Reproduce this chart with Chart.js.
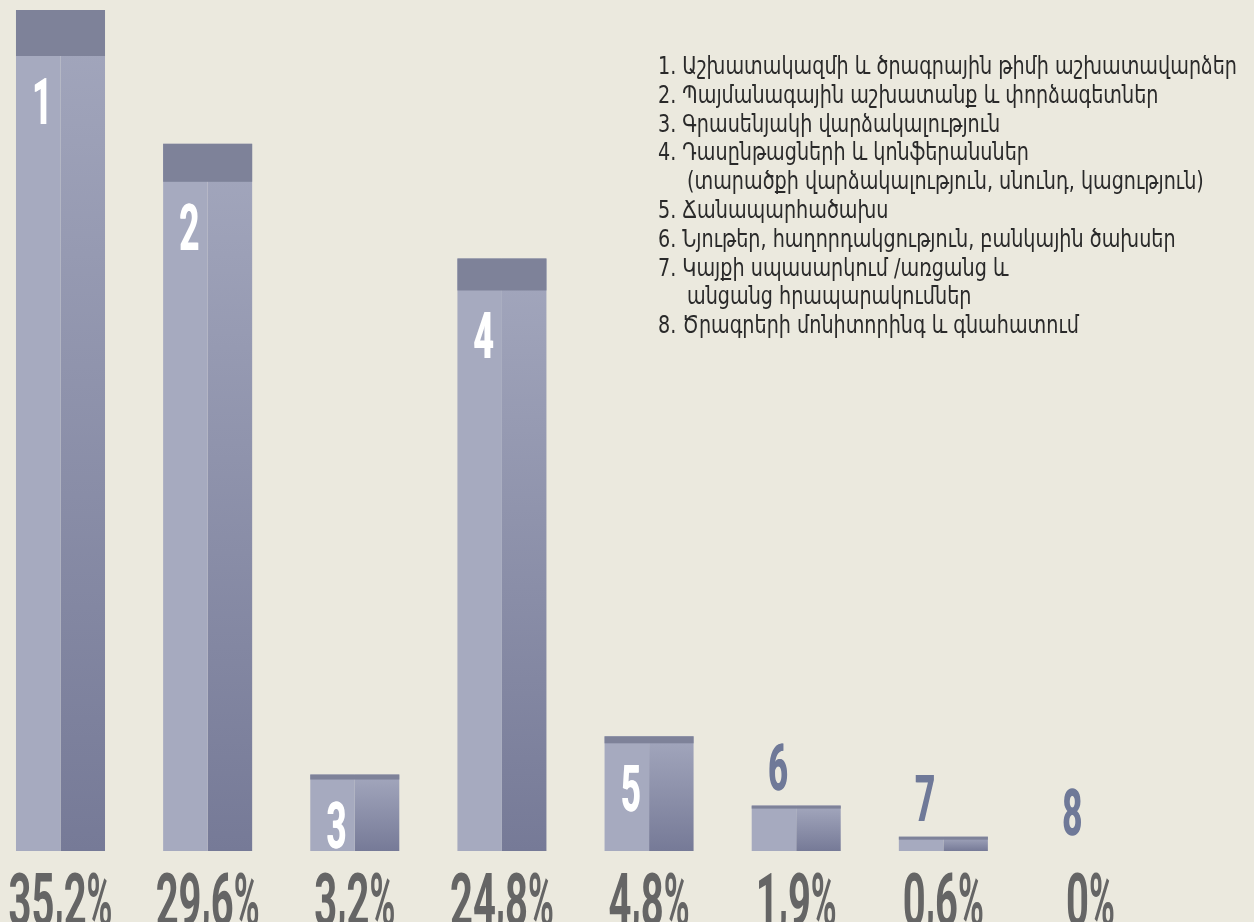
<!DOCTYPE html>
<html>
<head>
<meta charset="utf-8">
<script src="https://cdn.jsdelivr.net/npm/chart.js@4"></script>
<style>
  body { margin: 0; background: #ebe9de; }
  #wrap { position: relative; width: 1254px; height: 922px; overflow: hidden; }
  #legend {
    position: absolute; left: 658px; top: 52px;
    font-family: "DejaVu Sans Condensed", "DejaVu Sans", sans-serif;
    font-size: 24px; line-height: 28.8px; color: #2a2a2a;
    transform-origin: 0 0; white-space: nowrap;
  }
  #legend div { display: block; }
  #legend span { display: inline-block; }
</style>
</head>
<body>
<div id="wrap">
  <canvas id="chart" width="1254" height="922"></canvas>
  <div id="legend"></div>
</div>
<script>
// bar numbers (categories) and their shares, %
const categories = ["1", "2", "3", "4", "5", "6", "7", "8"];
const shares = [35.2, 29.6, 3.2, 24.8, 4.8, 1.9, 0.6, 0];
const shareLabels = ["35,2%", "29,6%", "3,2%", "24,8%", "4,8%", "1,9%", "0,6%", "0%"];

// legend, "\n" = wrapped line
const legendItems = [
  "Աշխատակազմի և ծրագրային թիմի աշխատավարձեր",
  "Պայմանագային աշխատանք և փորձագետներ",
  "Գրասենյակի վարձակալություն",
  "Դասընթացների և կոնֆերանսներ\n(տարածքի վարձակալություն, սնունդ, կացություն)",
  "Ճանապարհածախս",
  "Նյութեր, հաղորդակցություն, բանկային ծախսեր",
  "Կայքի սպասարկում /առցանց և\nանցանց հրապարակումներ",
  "Ծրագրերի մոնիտորինգ և գնահատում"
];

const lightCol = "#a6aabf";
const capCol = "#7e8299";
const gradTop = "#a3a7bd";
const gradBottom = "#767a97";
const numFont = 'Roboto, "DejaVu Sans Condensed", sans-serif';

// legend text
const legend = document.getElementById("legend");
const firstRows = [];
const contRows = [];
legendItems.forEach((item, i) => {
  item.split("\n").forEach((line, j) => {
    const row = document.createElement("div");
    const span = document.createElement("span");
    span.textContent = j === 0 ? (i + 1) + ". " + line : line;
    row.appendChild(span);
    legend.appendChild(row);
    if (j === 0) firstRows.push(span); else contRows.push(row);
  });
});
const sx = 579 / firstRows[0].getBoundingClientRect().width;
legend.style.transform = "scaleX(" + sx + ")";
contRows.forEach(r => { r.style.paddingLeft = (29 / sx) + "px"; });

function rightFill(c) {
  const ch = c.chart;
  if (!ch.chartArea || c.type !== "data") return gradBottom;
  const ys = ch.scales.y;
  const top = ys.getPixelForValue(c.raw);
  const base = ys.getPixelForValue(0);
  if (base - top < 1) return gradBottom;
  const g = ch.ctx.createLinearGradient(0, top, 0, base);
  g.addColorStop(0, gradTop);
  g.addColorStop(1, gradBottom);
  return g;
}

// condensed bold digits: each char squeezed to a narrow advance
function advanceFor(ch, size) {
  if (ch === ",") return size * 0.125;
  if (ch === "%") return size * 0.35;
  return size * 0.31;
}
function drawCondensed(ctx, text, cx, y, size, bold) {
  ctx.font = "bold " + size + "px " + numFont;
  ctx.textAlign = "left";
  ctx.textBaseline = "alphabetic";
  const chars = text.split("");
  const total = chars.reduce((a, ch) => a + advanceFor(ch, size), 0);
  let x = cx - total / 2;
  chars.forEach(ch => {
    const adv = advanceFor(ch, size);
    const s = adv / ctx.measureText(ch).width;
    const dy = ch === "," ? -6 : 0;
    for (const dx of bold) {
      ctx.save();
      ctx.translate(x + dx, y + dy);
      ctx.scale(s, 1);
      ctx.fillText(ch, 0, 0);
      ctx.restore();
    }
    x += adv;
  });
}

const decorPlugin = {
  id: "decor",
  afterDatasetsDraw(chart) {
    const ctx = chart.ctx;
    const m0 = chart.getDatasetMeta(0).data;
    const m1 = chart.getDatasetMeta(1).data;

    m0.forEach((b0, i) => {
      const b1 = m1[i];
      const left = b0.x - b0.width / 2;
      const right = b1.x + b1.width / 2;
      const mid = (left + right) / 2;
      const h = b0.base - b0.y;
      let capH = 0;
      if (h > 0) {
        capH = Math.max(3, Math.round(h * 0.053 + 1));
        ctx.fillStyle = capCol;
        ctx.fillRect(left, b0.y, right - left, capH);
      }
      // bar number
      const nx = b0.x + 4;
      if (h > 60) {
        ctx.fillStyle = "#ffffff";
        drawCondensed(ctx, categories[i], nx, b0.y + capH + 68, 64, [-0.4, 0.4]);
      } else {
        ctx.fillStyle = "#6f7998";
        drawCondensed(ctx, categories[i], nx, b0.y - 16, 64, [-0.4, 0.4]);
      }
      // share label
      ctx.fillStyle = "#656565";
      drawCondensed(ctx, shareLabels[i], mid, 926, 74, [0]);
    });
  }
};

new Chart(document.getElementById("chart"), {
  type: "bar",
  data: {
    labels: categories,
    datasets: [
      { data: shares, backgroundColor: lightCol, borderWidth: 0, clip: false },
      { data: shares, backgroundColor: rightFill, borderWidth: 0, clip: false }
    ]
  },
  options: {
    responsive: false,
    animation: false,
    devicePixelRatio: 1,
    layout: { padding: { left: 60.5, right: 163.5, top: 10, bottom: 71 } },
    datasets: { bar: { categoryPercentage: 0.605, barPercentage: 1 } },
    scales: {
      x: { display: false, offset: false },
      y: { display: false, min: 0, max: 35.2 }
    },
    plugins: { legend: { display: false }, tooltip: { enabled: false } }
  },
  plugins: [decorPlugin]
});
</script>
</body>
</html>
